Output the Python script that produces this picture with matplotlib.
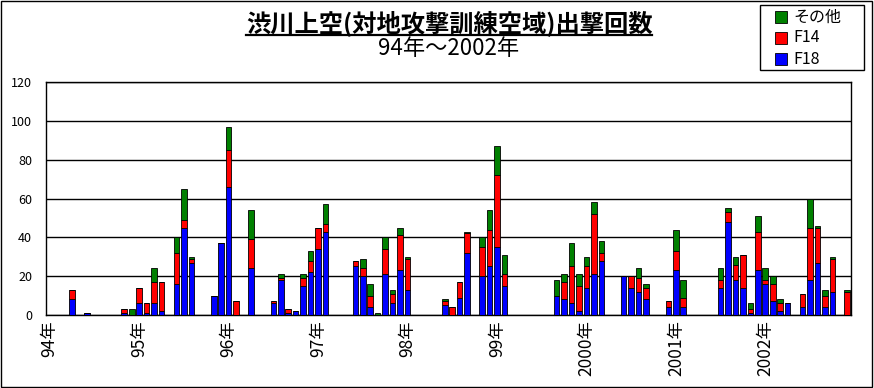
import numpy as np
import matplotlib.pyplot as plt
from matplotlib.patches import Rectangle
from matplotlib.lines import Line2D

plt.rcParams['font.family'] = ['Noto Sans CJK JP', 'DejaVu Sans']

# Monthly sorties, Jan 1994 .. Dec 2002 (12 values per row = one year)
f18 = [0, 0, 0, 8, 0, 1, 0, 0, 0, 0, 1, 0,
       6, 1, 6, 2, 0, 16, 45, 27, 0, 0, 10, 37,
       66, 0, 0, 24, 0, 0, 6, 18, 1, 2, 15, 22,
       34, 43, 0, 0, 0, 25, 20, 4, 0, 21, 6, 23,
       13, 0, 0, 0, 0, 5, 0, 9, 32, 0, 20, 25,
       35, 15, 0, 0, 0, 0, 0, 0, 10, 8, 6, 2,
       14, 21, 28, 0, 0, 20, 14, 12, 8, 0, 0, 4,
       23, 4, 0, 0, 0, 0, 14, 48, 18, 14, 1, 23,
       16, 7, 2, 6, 0, 4, 18, 27, 4, 12, 0, 0]
f14 = [0, 0, 0, 5, 0, 0, 0, 0, 0, 0, 2, 0,
       8, 5, 11, 15, 0, 16, 4, 2, 0, 0, 0, 0,
       19, 7, 0, 15, 0, 0, 1, 1, 2, 0, 4, 6,
       11, 4, 0, 0, 0, 3, 4, 6, 0, 13, 5, 18,
       16, 0, 0, 0, 0, 2, 4, 8, 10, 0, 15, 19,
       37, 6, 0, 0, 0, 0, 0, 0, 0, 9, 19, 13,
       11, 31, 4, 0, 0, 0, 6, 7, 6, 0, 0, 3,
       10, 5, 0, 0, 0, 0, 4, 5, 8, 17, 2, 20,
       2, 9, 4, 0, 0, 7, 27, 18, 6, 17, 0, 12]
other = [0, 0, 0, 0, 0, 0, 0, 0, 0, 0, 0, 3,
         0, 0, 7, 0, 0, 8, 16, 1, 0, 0, 0, 0,
         12, 0, 0, 15, 0, 0, 0, 2, 0, 0, 2, 5,
         0, 10, 0, 0, 0, 0, 5, 6, 1, 6, 2, 4,
         1, 0, 0, 0, 0, 1, 0, 0, 1, 0, 5, 10,
         15, 10, 0, 0, 0, 0, 0, 0, 8, 4, 12, 6,
         5, 6, 6, 0, 0, 0, 0, 5, 2, 0, 0, 0,
         11, 9, 0, 0, 0, 0, 6, 2, 4, 0, 3, 8,
         6, 4, 2, 0, 0, 0, 15, 1, 3, 1, 0, 1]
year_labels = ['94年', '95年', '96年', '97年', '98年', '99年',
               '2000年', '2001年', '2002年']
series_names = ['その他', 'F14', 'F18']
series_colors = ['#008000', '#ff0000', '#0000ff']

f18 = np.array(f18)
f14 = np.array(f14)
other = np.array(other)
x = np.arange(len(f18))

fig = plt.figure(figsize=(8.74, 3.88), dpi=100)
ax = fig.add_axes([46 / 874, 1 - 315 / 388, 805 / 874, 233 / 388])

# stacked bars: F18 at bottom, then F14, then others
ax.bar(x, f18, width=0.75, color='#0000ff', edgecolor='black', linewidth=0.6, zorder=3)
ax.bar(x, f14, width=0.75, bottom=f18, color='#ff0000', edgecolor='black', linewidth=0.6, zorder=3)
ax.bar(x, other, width=0.75, bottom=f18 + f14, color='#008000', edgecolor='black', linewidth=0.6, zorder=3)

ax.set_xlim(-0.5, len(x) - 0.5)
ax.set_ylim(0, 120)
ax.set_yticks(range(0, 121, 20))
ax.yaxis.grid(True, color='black', linewidth=1)
ax.set_axisbelow(True)
ax.set_xticks(np.arange(0, len(x), 12))
ax.set_xticklabels(year_labels, rotation=90, fontsize=12.5)
ax.tick_params(axis='x', length=0, pad=4)
ax.tick_params(axis='y', length=0, pad=10, labelsize=9)
for s in ax.spines.values():
    s.set_color('black')
    s.set_linewidth(1)

# titles
title = fig.text(0.514, 0.94, '渋川上空(対地攻撃訓練空域)出撃回数', ha='center', va='center',
                 fontsize=17.5, fontweight='bold')
fig.text(0.513, 0.876, '94年～2002年', ha='center', va='center', fontsize=16)

# underline the title
fig.canvas.draw()
bb = title.get_window_extent().transformed(fig.transFigure.inverted())
fig.add_artist(Line2D([bb.x0, bb.x1], [0.911, 0.911], color='black',
                      linewidth=1.6, transform=fig.transFigure))

# legend box drawn by hand (Excel style, wide box)
W, H = 874, 388
fig.patches.append(Rectangle((760 / W, 1 - 70 / H), 104 / W, 65 / H, transform=fig.transFigure,
                             facecolor='white', edgecolor='black', linewidth=1))
for name, col, yc in zip(series_names, series_colors, [17, 37.5, 59]):
    fig.patches.append(Rectangle((775 / W, 1 - (yc + 6) / H), 12 / W, 12 / H,
                                 transform=fig.transFigure, facecolor=col,
                                 edgecolor='black', linewidth=0.6))
    fig.text(793 / W, 1 - yc / H, name, ha='left', va='center', fontsize=11.5)

# chart area border
fig.patches.append(Rectangle((0.001, 0.003), 0.997, 0.994, transform=fig.transFigure,
                             fill=False, edgecolor='black', linewidth=1))

plt.savefig('out.png', dpi=100)
